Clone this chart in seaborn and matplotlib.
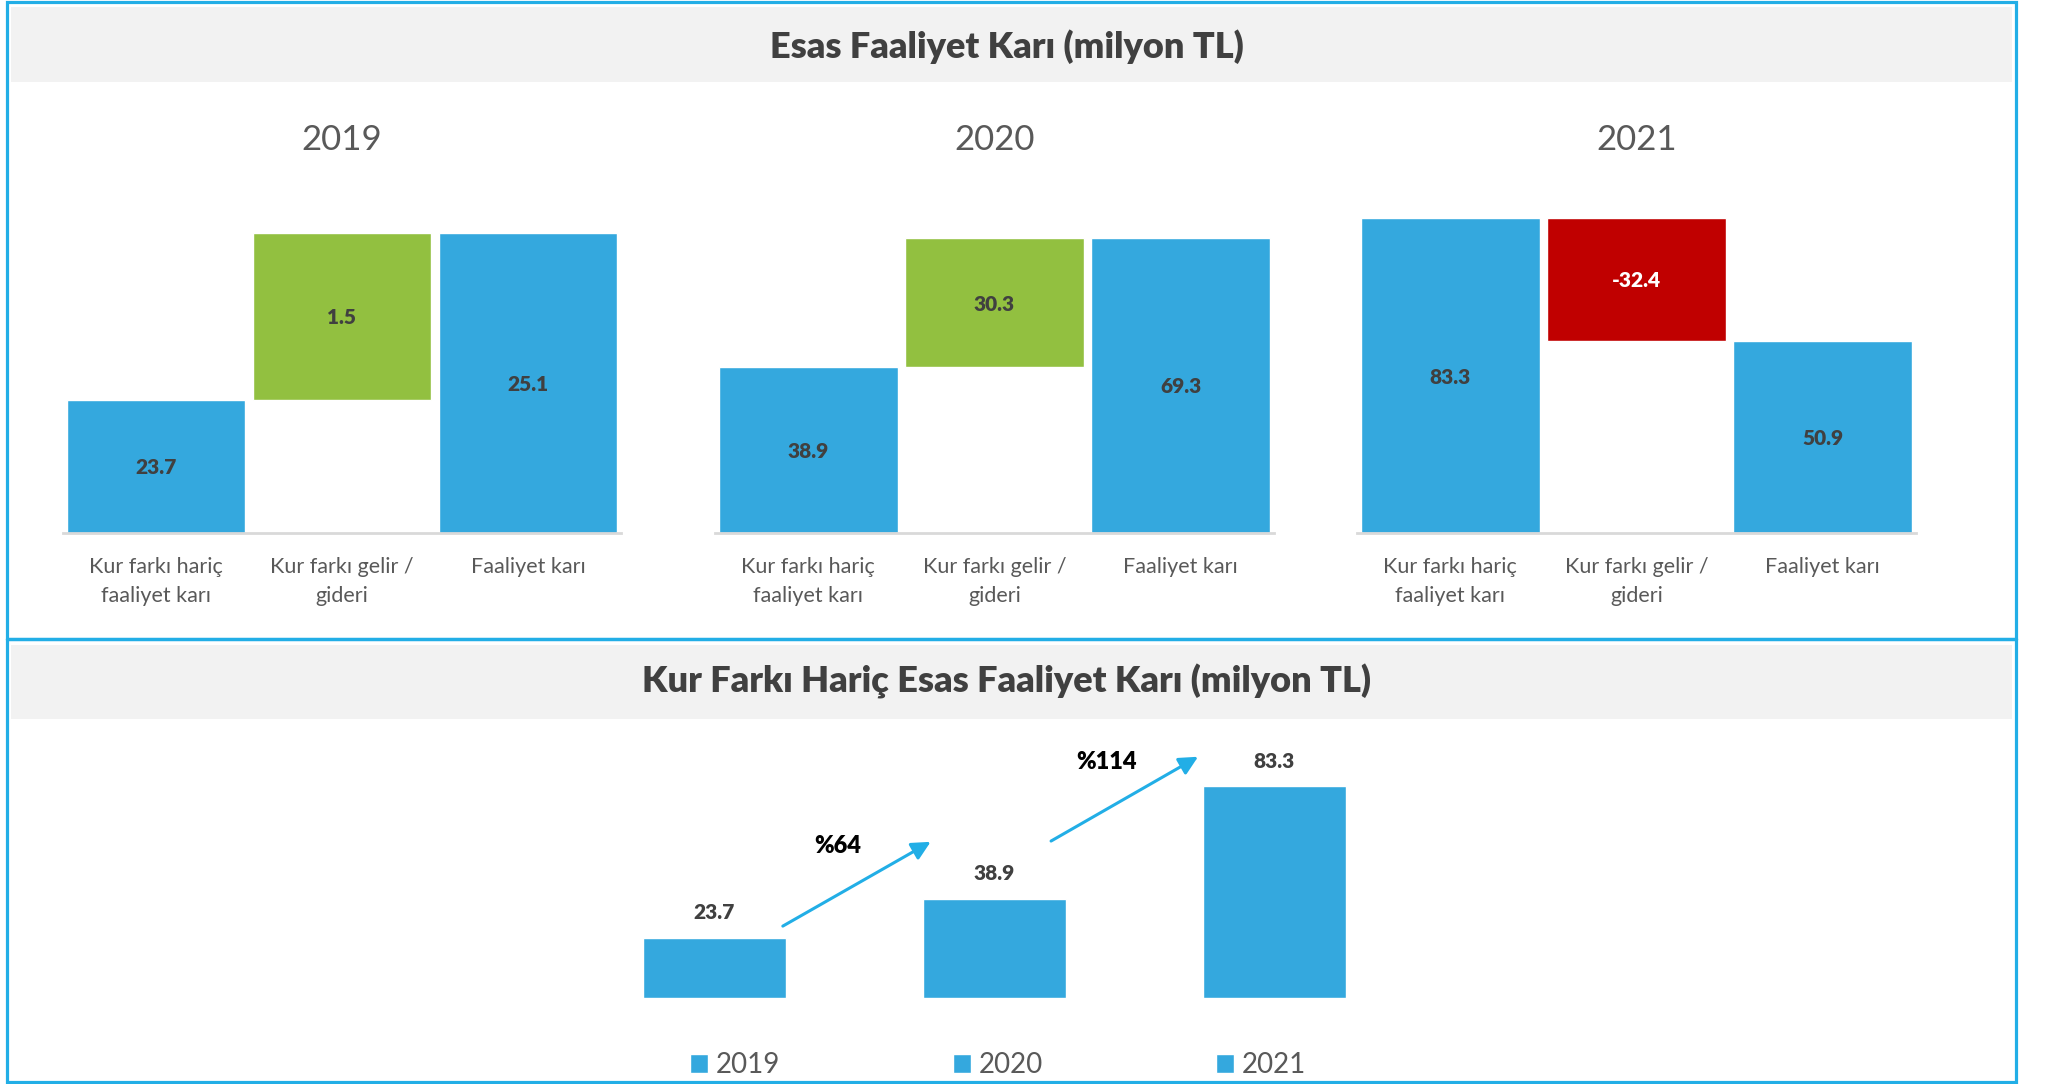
import numpy as np
import pandas as pd
import matplotlib
matplotlib.use("Agg")
import matplotlib.pyplot as plt
import seaborn as sns
from matplotlib.patches import Rectangle
from matplotlib.lines import Line2D

# ── Data ──────────────────────────────────────────────────────
years          = ['2019', '2020', '2021']
kalemler       = ['Kur farkı hariç\nfaaliyet karı', 'Kur farkı gelir /\ngideri', 'Faaliyet karı']
kur_haric      = [23.7, 38.9, 83.3]
kur_farki      = [1.5, 30.3, -32.4]
faaliyet_kari  = [25.1, 69.3, 50.9]
growth_labels  = ['%64', '%114']

# per-panel value axis range (the 2019 panel does not start at zero)
y_min = [22.58, 0.0, 0.0]
y_max = [25.71, 87.6, 98.7]

BLUE  = '#34A8DE'
GREEN = '#92C040'
RED   = '#C00000'
CYAN  = '#22AEE6'
BAND  = '#F2F2F2'
DARK  = '#404040'
MID   = '#595959'

sns.set_theme(style='white')
plt.rcParams['font.family'] = ['Lato', 'DejaVu Sans']

W, H = 2045, 1084
fig = plt.figure(figsize=(W / 100, H / 100), dpi=100)


def box(x0, y0, x1, y1):
    # pixel box (top-left origin) -> figure fraction rect
    return [x0 / W, 1 - y1 / H, (x1 - x0) / W, (y1 - y0) / H]


# ── Frame, bands, titles ─────────────────────────────────────
for (bx0, by0, bx1, by1) in [(11, 7, 2012, 82), (11, 645, 2012, 719)]:
    r = box(bx0, by0, bx1, by1)
    fig.patches.append(Rectangle((r[0], r[1]), r[2], r[3], transform=fig.transFigure,
                                 facecolor=BAND, edgecolor='none', zorder=0))
fig.patches.append(Rectangle((7 / W, 2 / H), 2009 / W, 1080 / H, transform=fig.transFigure,
                             facecolor='none', edgecolor=CYAN, linewidth=2.3, zorder=5))
fig.lines.append(Line2D([7 / W, 2016 / W], [1 - 639 / H, 1 - 639 / H], transform=fig.transFigure,
                        color=CYAN, linewidth=2.5, zorder=5))

fig.text(1007 / W, 1 - 47 / H, 'Esas Faaliyet Karı (milyon TL)', ha='center', va='center',
         fontsize=26, fontweight='heavy', color=DARK)
fig.text(1007 / W, 1 - 681 / H, 'Kur Farkı Hariç Esas Faaliyet Karı (milyon TL)', ha='center',
         va='center', fontsize=26, fontweight='heavy', color=DARK)

# ── Top: waterfall per year ──────────────────────────────────
panel_x = [(63, 621), (715, 1274), (1357, 1916)]
for i, (x0, x1) in enumerate(panel_x):
    ax = fig.add_axes(box(x0, 160, x1, 533))
    ax.set_facecolor('none')

    totals = pd.DataFrame({'kalem': [kalemler[0], kalemler[2]],
                           'deger': [kur_haric[i], faaliyet_kari[i]]})
    sns.barplot(data=totals, x='kalem', y='deger', order=kalemler, color=BLUE,
                width=0.962, saturation=1, errorbar=None, ax=ax)

    lo, hi = sorted([kur_haric[i], faaliyet_kari[i]])
    delta = pd.DataFrame({'kalem': [kalemler[1]], 'deger': [hi - lo]})
    sns.barplot(data=delta, x='kalem', y='deger', order=kalemler,
                color=GREEN if kur_farki[i] > 0 else RED,
                width=0.962, saturation=1, errorbar=None, bottom=lo, ax=ax)

    ax.set_ylim(y_min[i], y_max[i])
    ax.set_xlim(-0.5, 2.5)
    base = y_min[i]

    ax.text(0, (base + kur_haric[i]) / 2, f'{kur_haric[i]:.1f}', ha='center',
            va='center_baseline', fontsize=15, fontweight='heavy', color=DARK)
    ax.text(1, (lo + hi) / 2, f'{kur_farki[i]:.1f}', ha='center', va='center_baseline',
            fontsize=15, fontweight='heavy', color=DARK if kur_farki[i] > 0 else 'white')
    ax.text(2, (base + faaliyet_kari[i]) / 2, f'{faaliyet_kari[i]:.1f}', ha='center',
            va='center_baseline', fontsize=15, fontweight='heavy', color=DARK)

    ax.text(0.5, 1 + 20 / 373, years[i], transform=ax.transAxes, ha='center', va='center',
            fontsize=25, color=MID)

    sns.despine(ax=ax, left=True)
    ax.spines['bottom'].set_color('#D9D9D9')
    ax.spines['bottom'].set_linewidth(2)
    ax.set_yticks([])
    ax.set_xlabel('')
    ax.set_ylabel('')
    ax.tick_params(axis='x', length=0, pad=17, labelsize=15.5, labelcolor=MID)
    for lbl in ax.get_xticklabels():
        lbl.set_linespacing(1.6)

# ── Bottom: kur farkı hariç by year ──────────────────────────
axb = fig.add_axes(box(574.5, 740, 1414.5, 997.7))
axb.set_facecolor('none')
dfb = pd.DataFrame({'yil': years, 'deger': kur_haric})
sns.barplot(data=dfb, x='yil', y='deger', hue='yil', palette=[BLUE] * 3,
            width=0.51, saturation=1, errorbar=None, legend=False, ax=axb)
axb.set_ylim(0, 101.5)
axb.set_xlim(-0.5, 2.5)

for i, v in enumerate(kur_haric):
    axb.annotate(f'{v:.1f}', (i, v), xytext=(0, 18), textcoords='offset points',
                 ha='center', va='center', fontsize=15, fontweight='heavy', color=DARK)

arrow_kw = dict(arrowstyle='-|>', color=CYAN, lw=2.2, mutation_scale=28, shrinkA=0, shrinkB=0)
axb.annotate('', xy=(0.772, 61.4), xytext=(0.244, 28.2), arrowprops=arrow_kw)
axb.annotate('', xy=(1.727, 94.9), xytext=(1.202, 61.7), arrowprops=arrow_kw)
axb.text(0.441, 59.7, growth_labels[0], ha='center', va='center', fontsize=17,
         fontweight='heavy', color='black')
axb.text(1.402, 92.8, growth_labels[1], ha='center', va='center', fontsize=17,
         fontweight='heavy', color='black')

axb.axis('off')
axb.legend(handles=list(axb.patches[:3]), labels=years, loc='center',
           bbox_to_anchor=(998 / W, 1 - 1065 / H), bbox_transform=fig.transFigure,
           ncol=3, frameon=False, fontsize=20, labelcolor=MID,
           handlelength=0.65, handleheight=0.65, handletextpad=0.3, columnspacing=6.2)

fig.savefig('out.png', dpi=100)
